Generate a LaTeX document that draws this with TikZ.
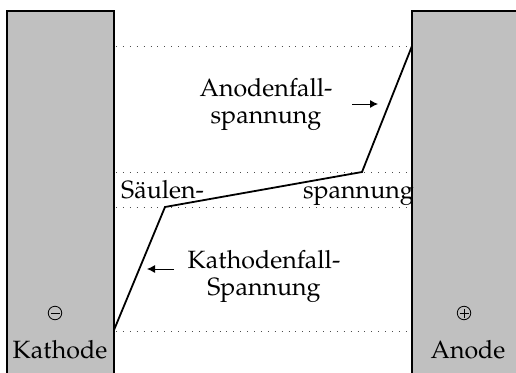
\documentclass[tikz,border=0pt]{standalone}
\usepackage{fontspec}
\setmainfont{TeX Gyre Pagella}
\usetikzlibrary{arrows.meta}
\begin{document}
\begin{tikzpicture}[x=1pt,y=-1pt,
  electrode/.style={fill={rgb,255:red,192;green,192;blue,192},draw=black,line width=2.6pt},
  guide/.style={draw=black!70,line width=0.9pt,dash pattern=on 0.9pt off 6pt},
  curve/.style={draw=black,line width=1.8pt,line join=miter},
  pointer/.style={draw=black,line width=0.9pt,-{Latex[length=8pt,width=8pt]}},
  lbl/.style={inner sep=0pt,font=\fontsize{25}{27}\selectfont},
  sym/.style={circle,draw=black,line width=0.8pt,minimum size=13.5pt,inner sep=0pt,
    font=\fontsize{16}{16}\selectfont}]
\useasboundingbox (0,0) rectangle (516,372);
\begin{scope}
\clip (0,0) rectangle (516,372);
\draw[electrode] (7,11) rectangle (114,390);
\draw[electrode] (412,11) rectangle (540,390);
\end{scope}
% guide levels
\coordinate (g1a) at (116,46); \coordinate (g1b) at (411,46);
\coordinate (g2a) at (116,172); \coordinate (g2b) at (411,172);
\coordinate (g3a) at (116,207); \coordinate (g3b) at (411,207);
\coordinate (g4a) at (116,331); \coordinate (g4b) at (411,331);
\draw[guide] (g1a) -- (g1b);
\draw[guide] (g2a) -- (g2b);
\draw[guide] (g3a) -- (g3b);
\draw[guide] (g4a) -- (g4b);
% potential curve
\coordinate (p0) at (114,330);
\coordinate (p1) at (165,207);
\coordinate (p2) at (362,172);
\coordinate (p3) at (412,46);
\draw[curve] (p0) -- (p1) -- (p2) -- (p3);
% labels
\node[lbl,align=center,anchor=base] (anode) at (266,123) {Anodenfall-\\spannung};
\coordinate (aa) at (352,104); \coordinate (ab) at (378,104);
\draw[pointer] (aa) -- (ab);
\node[lbl,anchor=base west] (saeulen) at (121,198) {Säulen-};
\node[lbl,anchor=base east] (spann) at (414,198) {spannung};
\node[lbl,align=center,anchor=base] (kath) at (264,295) {Kathodenfall-\\Spannung};
\coordinate (ka) at (174,269); \coordinate (kb) at (147,269);
\draw[pointer] (ka) -- (kb);
\node[sym] (minus) at (55,313) {};
\draw[line width=0.8pt] ([xshift=-4.5pt]minus.center) -- ([xshift=4.5pt]minus.center);
\node[lbl,anchor=base] (kathode) at (60,358) {Kathode};
\node[sym] (plus) at (464,313) {};
\draw[line width=0.8pt] ([xshift=-4.5pt]plus.center) -- ([xshift=4.5pt]plus.center)
  ([yshift=-4.5pt]plus.center) -- ([yshift=4.5pt]plus.center);
\node[lbl,anchor=base] (anodetxt) at (468,358) {Anode};
\end{tikzpicture}
\end{document}
